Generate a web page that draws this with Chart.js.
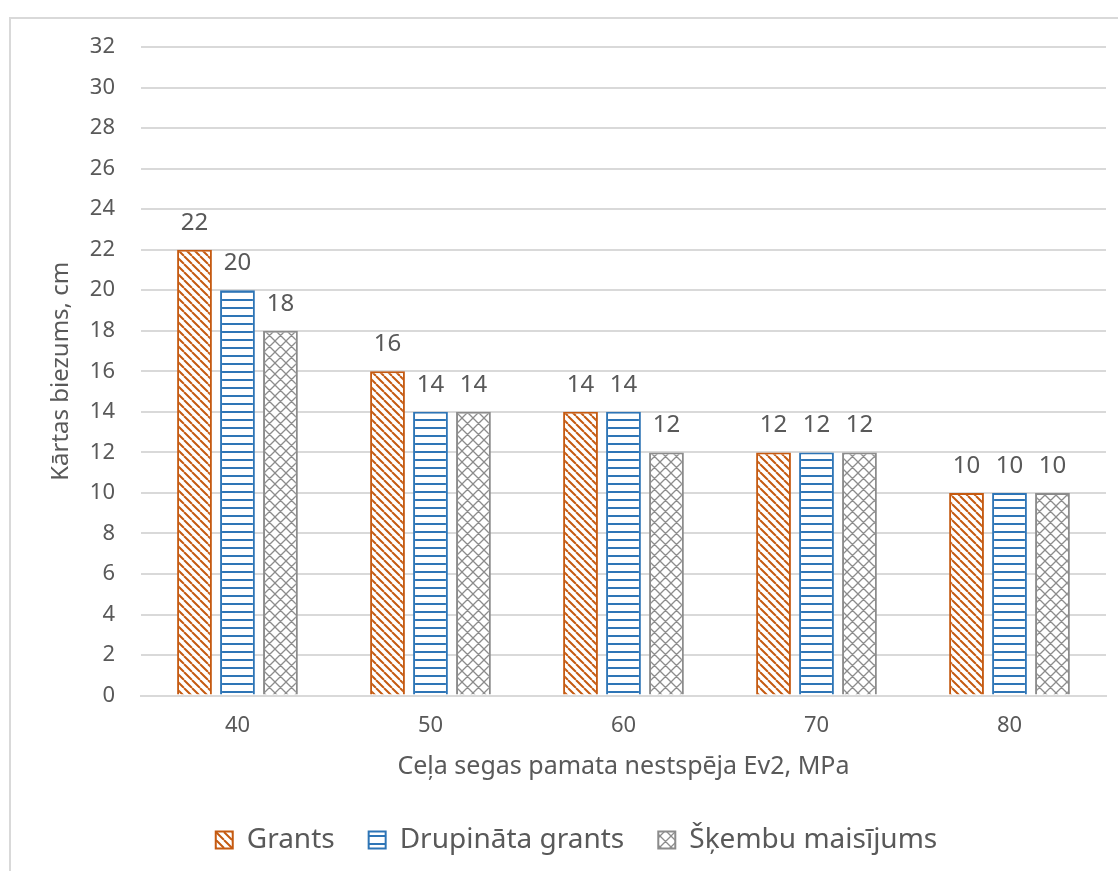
<!DOCTYPE html>
<html>
<head>
<meta charset="utf-8">
<script src="https://cdn.jsdelivr.net/npm/chart.js@4"></script>
<style>
html, body { margin: 0; padding: 0; background: #fff; overflow: hidden; }
.frame { position: absolute; left: 9px; top: 17px; width: 1200px; height: 900px; border: 2px solid #d9d9d9; }
.wrap { position: absolute; left: 0; top: 0; width: 1118px; height: 871px; }
</style>
</head>
<body>
<div class="frame"></div>
<div class="wrap"><canvas id="chart"></canvas></div>
<script>
const categories = ["40", "50", "60", "70", "80"];
const grants = [22, 16, 14, 12, 10];
const drupinata = [20, 14, 14, 12, 10];
const skembu = [18, 14, 12, 12, 10];
const seriesNames = ["Grants", "Drupināta grants", "Šķembu maisījums"];

const FONT = "'Noto Sans', sans-serif";
const TEXT = "#595959";

// pattern tiles
function tile(size, draw) {
    const c = document.createElement("canvas");
    c.width = size;
    c.height = size;
    const g = c.getContext("2d");
    g.fillStyle = "#fff";
    g.fillRect(0, 0, size, size);
    draw(g, size);
    return g.createPattern(c, "repeat");
}

const ctx = document.getElementById("chart").getContext("2d");

const diagPattern = tile(8, function (g, s) {
    g.strokeStyle = "#c55a11";
    g.lineWidth = 2;
    g.beginPath();
    for (let k = -1; k <= 1; k++) {
        g.moveTo(k * s, 0);
        g.lineTo(k * s + s, s);
    }
    g.stroke();
});

const linePattern = tile(8, function (g, s) {
    g.fillStyle = "#2e75b6";
    g.fillRect(0, 3, s, 2);
});

const diamondPattern = tile(11, function (g, s) {
    g.strokeStyle = "#8c8c8c";
    g.lineWidth = 1.3;
    g.beginPath();
    for (let k = -1; k <= 1; k++) {
        g.moveTo(k * s, 0);
        g.lineTo(k * s + s, s);
        g.moveTo(k * s + s, 0);
        g.lineTo(k * s, s);
    }
    g.stroke();
});

// value labels above bars
const valueLabels = {
    id: "valueLabels",
    afterDatasetsDraw(chart) {
        const c = chart.ctx;
        c.save();
        c.font = "24px " + FONT;
        c.fillStyle = TEXT;
        c.textAlign = "center";
        c.textBaseline = "middle";
        chart.data.datasets.forEach(function (ds, i) {
            chart.getDatasetMeta(i).data.forEach(function (bar, j) {
                c.fillText(ds.data[j], bar.x, bar.y - 27);
            });
        });
        c.restore();
    }
};

new Chart(ctx, {
    type: "bar",
    data: {
        labels: categories,
        datasets: [
            { label: seriesNames[0], data: grants, backgroundColor: diagPattern, borderColor: "#c55a11" },
            { label: seriesNames[1], data: drupinata, backgroundColor: linePattern, borderColor: "#2e75b6" },
            { label: seriesNames[2], data: skembu, backgroundColor: diamondPattern, borderColor: "#8c8c8c" }
        ]
    },
    options: {
        responsive: true,
        maintainAspectRatio: false,
        animation: false,
        layout: { padding: { left: 47, right: 12, top: 47, bottom: 7 } },
        datasets: {
            bar: { borderWidth: 2, categoryPercentage: 0.668, barPercentage: 0.81 }
        },
        scales: {
            x: {
                grid: { display: false },
                border: { color: "#d9d9d9", width: 2 },
                ticks: { color: TEXT, font: { family: FONT, size: 22 }, padding: 9 },
                title: {
                    display: true,
                    text: "Ceļa segas pamata nestspēja Ev2, MPa",
                    color: TEXT,
                    font: { family: FONT, size: 25 },
                    padding: { top: 4, bottom: 10 }
                }
            },
            y: {
                min: 0,
                max: 32,
                ticks: { stepSize: 2, color: TEXT, font: { family: FONT, size: 22 }, padding: 26 },
                grid: { color: "#d9d9d9", lineWidth: 2, drawTicks: false },
                border: { display: false },
                title: {
                    display: true,
                    text: "Kārtas biezums, cm",
                    color: TEXT,
                    font: { family: FONT, size: 24 },
                    padding: { top: 0, bottom: -12 }
                }
            }
        },
        plugins: {
            legend: {
                position: "bottom",
                labels: {
                    color: TEXT,
                    font: { family: FONT, size: 28 },
                    boxWidth: 17,
                    boxHeight: 17,
                    padding: 34
                }
            },
            tooltip: { enabled: false }
        }
    },
    plugins: [valueLabels]
});
</script>
</body>
</html>
